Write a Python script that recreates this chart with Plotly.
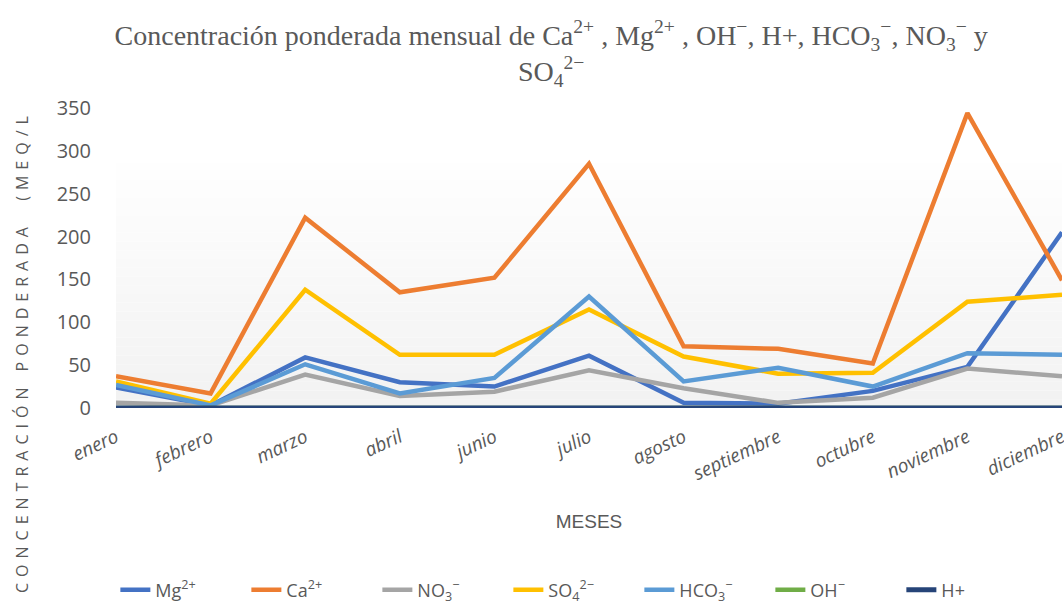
import plotly.graph_objects as go

meses = ["enero", "febrero", "marzo", "abril", "junio", "julio", "agosto",
         "septiembre", "octubre", "noviembre", "diciembre"]

mg = [24, 3, 59, 30, 25, 61, 6, 5, 20, 48, 205]
ca = [37, 17, 222, 135, 152, 285, 72, 69, 52, 344, 149]
no3 = [6, 3, 39, 14, 19, 44, 23, 6, 12, 46, 37]
so4 = [31, 5, 138, 62, 62, 115, 60, 40, 41, 124, 132]
hco3 = [27, 3, 51, 17, 35, 130, 31, 47, 25, 64, 62]
oh = [0, 0, 0, 0, 0, 0, 0, 0, 0, 0, 0]
hplus = [0, 0, 0, 0, 0, 0, 0, 0, 0, 0, 0]

series = [
    ("Mg<sup>2+</sup>", mg, "#4472C4", 4.5),
    ("Ca<sup>2+</sup>", ca, "#ED7D31", 4.5),
    ("NO<sub>3</sub><sup>−</sup>", no3, "#A5A5A5", 4.5),
    ("SO<sub>4</sub><sup>2−</sup>", so4, "#FFC000", 4.5),
    ("HCO<sub>3</sub><sup>−</sup>", hco3, "#5B9BD5", 4.5),
    ("OH<sup>−</sup>", oh, "#70AD47", 4.5),
    ("H+", hplus, "#264478", 5),
]

fig = go.Figure()
for name, vals, color, w in series:
    fig.add_trace(go.Scatter(x=meses, y=vals, mode="lines", name=name,
                             line=dict(color=color, width=w)))

# gradient background for plot area (style only)
shapes = []
n = 30
top_frac = 1 - (145 - 108) / 300.0
for i in range(n):
    y0 = top_frac * i / n
    y1 = top_frac * (i + 1) / n
    t = i / (n - 1)
    c = int(round(242 + (255 - 242) * t))
    shapes.append(dict(type="rect", xref="paper", yref="paper", x0=0, x1=1,
                       y0=y0, y1=y1, fillcolor=f"rgb({c},{c},{c})",
                       line=dict(width=0), layer="below"))

gray = "#595959"
fig.update_layout(
    width=1064, height=603,
    margin=dict(l=116, r=2, t=108, b=195, autoexpand=False),
    paper_bgcolor="white", plot_bgcolor="rgba(0,0,0,0)",
    shapes=shapes,
    title=dict(
        text="Concentración ponderada mensual de Ca<sup>2+</sup> , Mg<sup>2+</sup> , OH<sup>−</sup>, H+, HCO<sub>3</sub><sup>−</sup>, NO<sub>3</sub><sup>−</sup> y<br>SO<sub>4</sub><sup>2−</sup>",
        x=0.518, xanchor="center", y=0.926, yanchor="top",
        font=dict(family="Liberation Serif", size=28, color=gray)),
    xaxis=dict(
        range=[0, 10], showgrid=False, zeroline=False, showline=False,
        automargin=False,
        tickangle=-25, ticks="outside", ticklen=10, tickcolor="rgba(0,0,0,0)",
        tickfont=dict(family="Open Sans", size=19, color=gray, style="italic"),
        title=dict(text="MESES", font=dict(family="Liberation Sans Narrow, Liberation Sans", size=19, color=gray), standoff=29),
    ),
    yaxis=dict(
        range=[0, 350], dtick=50, showgrid=False, zeroline=False, showline=False,
        automargin=False,
        tickfont=dict(family="Open Sans", size=20, color=gray),
        ticks="outside", ticklen=20, tickcolor="rgba(0,0,0,0)",
    ),
    annotations=[dict(
        text='<span style="letter-spacing:6px">CONCENTRACIÓN PONDERADA  (MEQ/L</span>',
        xref="paper", yref="paper", x=(22 - 116) / 946.0, y=(408 - 352) / 300.0,
        xanchor="center", yanchor="middle", textangle=-90, showarrow=False,
        font=dict(family="Open Sans", size=16, color=gray))],
    legend=dict(orientation="h", x=0.484, xanchor="center", y=-(590 - 408) / 300.0,
                yanchor="middle",
                font=dict(family="Open Sans", size=18, color=gray),
                entrywidth=86, entrywidthmode="pixels", tracegroupgap=0),
    showlegend=True,
)

fig.write_html("out.html", post_script="document.body.style.margin='0';",
               config={"displayModeBar": False})
